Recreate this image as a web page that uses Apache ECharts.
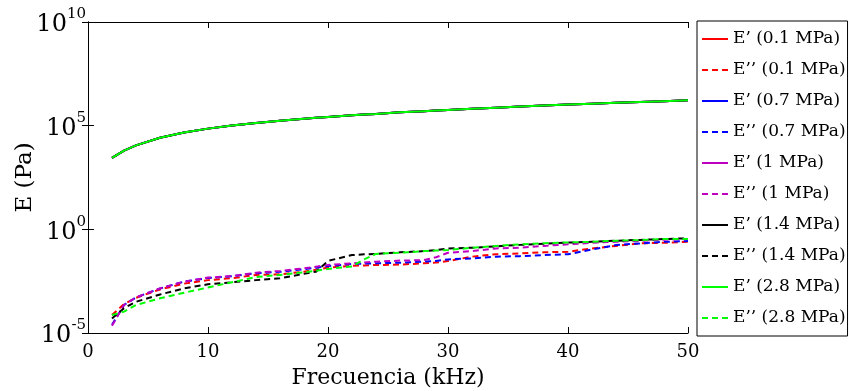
<!DOCTYPE html>
<html>
<head>
<meta charset="utf-8">
<script src="https://cdn.jsdelivr.net/npm/echarts@6/dist/echarts.min.js"></script>
<style>
html,body{margin:0;padding:0;background:#fff;}
#chart{width:851px;height:391px;}
</style>
</head>
<body>
<div id="chart"></div>
<script>
// Frequency samples (kHz)
const freq = [2,3,4,6,8,10,12,14,16,18,19,20,22,23,24,26,28,29,30,32,34,36,38,40,42,44,46,48,50];

// Storage modulus E' (Pa) — curves overlap for all pressures
const Ep_01 = [2.8e3,6.3e3,1.12e4,2.6e4,4.7e4,7.2e4,1.02e5,1.35e5,1.74e5,2.14e5,2.4e5,2.6e5,3.16e5,3.5e5,3.7e5,4.4e5,5.0e5,5.4e5,5.75e5,6.6e5,7.4e5,8.3e5,9.3e5,1.05e6,1.15e6,1.26e6,1.38e6,1.51e6,1.66e6];
const Ep_07 = [2.8e3,6.3e3,1.12e4,2.6e4,4.7e4,7.2e4,1.02e5,1.35e5,1.74e5,2.14e5,2.4e5,2.6e5,3.16e5,3.5e5,3.7e5,4.4e5,5.0e5,5.4e5,5.75e5,6.6e5,7.4e5,8.3e5,9.3e5,1.05e6,1.15e6,1.26e6,1.38e6,1.51e6,1.66e6];
const Ep_1  = [2.8e3,6.3e3,1.12e4,2.6e4,4.7e4,7.2e4,1.02e5,1.35e5,1.74e5,2.14e5,2.4e5,2.6e5,3.16e5,3.5e5,3.7e5,4.4e5,5.0e5,5.4e5,5.75e5,6.6e5,7.4e5,8.3e5,9.3e5,1.05e6,1.15e6,1.26e6,1.38e6,1.51e6,1.66e6];
const Ep_14 = [2.8e3,6.3e3,1.12e4,2.6e4,4.7e4,7.2e4,1.02e5,1.35e5,1.74e5,2.14e5,2.4e5,2.6e5,3.16e5,3.5e5,3.7e5,4.4e5,5.0e5,5.4e5,5.75e5,6.6e5,7.4e5,8.3e5,9.3e5,1.05e6,1.15e6,1.26e6,1.38e6,1.51e6,1.66e6];
const Ep_28 = [2.8e3,6.3e3,1.12e4,2.6e4,4.7e4,7.2e4,1.02e5,1.35e5,1.74e5,2.14e5,2.4e5,2.6e5,3.16e5,3.5e5,3.7e5,4.4e5,5.0e5,5.4e5,5.75e5,6.6e5,7.4e5,8.3e5,9.3e5,1.05e6,1.15e6,1.26e6,1.38e6,1.51e6,1.66e6];

// Loss modulus E'' (Pa)
const Epp_01 = [7.4e-5,2.5e-4,5.0e-4,1.26e-3,2.4e-3,3.55e-3,4.4e-3,6.3e-3,6.8e-3,9.1e-3,1.12e-2,1.41e-2,1.74e-2,1.82e-2,1.9e-2,2.0e-2,2.3e-2,2.5e-2,2.95e-2,4.8e-2,6.3e-2,6.9e-2,7.8e-2,8.3e-2,0.12,0.158,0.21,0.224,0.25];
const Epp_07 = [2.5e-5,2.24e-4,5.2e-4,1.41e-3,3.0e-3,4.5e-3,5.4e-3,7.6e-3,8.9e-3,1.2e-2,1.41e-2,1.7e-2,2.14e-2,2.24e-2,2.3e-2,2.45e-2,2.75e-2,3.0e-2,3.55e-2,3.98e-2,4.8e-2,5.1e-2,5.75e-2,6.3e-2,0.107,0.174,0.21,0.25,0.27];
const Epp_1  = [2.24e-5,2.24e-4,5.2e-4,1.41e-3,3.0e-3,4.7e-3,5.6e-3,8.1e-3,9.8e-3,1.32e-2,1.58e-2,1.9e-2,2.3e-2,2.5e-2,2.75e-2,3.1e-2,3.3e-2,4.5e-2,7.4e-2,8.9e-2,0.12,0.129,0.158,0.19,0.224,0.25,0.275,0.316,0.34];
const Epp_14 = [5.0e-5,1.58e-4,3.2e-4,7.2e-4,1.41e-3,2.24e-3,2.8e-3,3.55e-3,4.4e-3,7.1e-3,9.1e-3,3.0e-2,5.75e-2,6.2e-2,6.5e-2,7.8e-2,8.9e-2,0.1,0.12,0.129,0.151,0.178,0.204,0.229,0.25,0.282,0.309,0.34,0.37];
const Epp_28 = [7.4e-5,1.07e-4,2.24e-4,4.7e-4,8.7e-4,1.58e-3,2.8e-3,5.0e-3,6.3e-3,8.5e-3,1.0e-2,1.23e-2,1.62e-2,3.55e-2,6.5e-2,7.4e-2,8.9e-2,9.5e-2,0.1,0.129,0.158,0.19,0.214,0.234,0.25,0.282,0.302,0.34,0.34];

const seriesNames = ["E’ (0.1 MPa)","E’’ (0.1 MPa)","E’ (0.7 MPa)","E’’ (0.7 MPa)","E’ (1 MPa)","E’’ (1 MPa)","E’ (1.4 MPa)","E’’ (1.4 MPa)","E’ (2.8 MPa)","E’’ (2.8 MPa)"];
const seriesData = [Ep_01,Epp_01,Ep_07,Epp_07,Ep_1,Epp_1,Ep_14,Epp_14,Ep_28,Epp_28];
const seriesColors = ['#ff0000','#ff0000','#0000ff','#0000ff','#c000c0','#c000c0','#000000','#000000','#00ff00','#00ff00'];

const xTicks = [0,10,20,30,40,50];
const yExpTicks = [-5,0,5,10];
const xTitle = 'Frecuencia (kHz)';
const yTitle = 'E (Pa)';

const FONT = "'DejaVu Serif', 'Liberation Serif', serif";

const series = seriesNames.map((name, i) => {
  const dashed = (i % 2 === 1);
  return {
    name: name,
    type: 'line',
    xAxisIndex: 0,
    yAxisIndex: 0,
    symbol: 'none',
    showSymbol: false,
    data: freq.map((f, k) => [f, seriesData[i][k]]),
    lineStyle: { color: seriesColors[i], width: 2, type: dashed ? [6, 4] : 'solid', join: 'round' },
    itemStyle: { color: seriesColors[i] },
    emphasis: { disabled: true }
  };
});

const chart = echarts.init(document.getElementById('chart'), null, { renderer: 'canvas' });
chart.setOption({
  animation: false,
  backgroundColor: '#fff',
  textStyle: { fontFamily: FONT },
  grid: { left: 88, right: 163, top: 22, bottom: 58, containLabel: false, outerBoundsMode: 'none' },
  legend: {
    orient: 'vertical',
    left: 697,
    top: 21,
    padding: [8, 2, 8, 4],
    itemGap: 11,
    itemWidth: 26,
    itemHeight: 14,
    borderColor: '#000',
    borderWidth: 1,
    backgroundColor: '#fff',
    itemStyle: { color: 'transparent', borderColor: 'transparent', borderWidth: 0, opacity: 0 },
    textStyle: { fontFamily: FONT, fontSize: 17, color: '#000', lineHeight: 20 },
    data: seriesNames
  },
  xAxis: [{
    type: 'value',
    min: xTicks[0], max: xTicks[xTicks.length - 1], interval: 10,
    position: 'bottom',
    name: xTitle,
    nameLocation: 'middle',
    nameGap: 34,
    nameMoveOverlap: false,
    nameTextStyle: { fontFamily: FONT, fontSize: 22, color: '#000' },
    axisLine: { lineStyle: { color: '#000', width: 1 } },
    axisTick: { inside: true, length: 6, lineStyle: { color: '#000' } },
    axisLabel: { fontFamily: FONT, fontSize: 18, color: '#000', margin: 10 },
    splitLine: { show: false }
  }, {
    type: 'value',
    min: xTicks[0], max: xTicks[xTicks.length - 1], interval: 10,
    position: 'top',
    axisLine: { lineStyle: { color: '#000', width: 1 } },
    axisTick: { inside: true, length: 6, lineStyle: { color: '#000' } },
    axisLabel: { show: false },
    splitLine: { show: false }
  }],
  yAxis: [{
    type: 'log',
    logBase: 10,
    min: Math.pow(10, yExpTicks[0]),
    max: Math.pow(10, yExpTicks[yExpTicks.length - 1]),
    interval: 5,
    position: 'left',
    name: yTitle,
    nameLocation: 'middle',
    nameGap: 51,
    nameMoveOverlap: false,
    nameRotate: 90,
    nameTextStyle: { fontFamily: FONT, fontSize: 23, color: '#000' },
    axisLine: { lineStyle: { color: '#000', width: 1 } },
    axisTick: { inside: true, length: 6, lineStyle: { color: '#000' } },
    axisLabel: {
      margin: 2,
      showMinLabel: true,
      showMaxLabel: true,
      formatter: function (v) {
        const e = Math.round(Math.log10(v));
        return '{b|10}{s|' + (e < 0 ? '-' + (-e) : e) + '}';
      },
      rich: {
        b: { fontFamily: FONT, fontSize: 24, lineHeight: 30, color: '#000', verticalAlign: 'bottom' },
        s: { fontFamily: FONT, fontSize: 15, lineHeight: 15, color: '#000', verticalAlign: 'top' }
      }
    },
    splitLine: { show: false }
  }, {
    type: 'log',
    logBase: 10,
    min: Math.pow(10, yExpTicks[0]),
    max: Math.pow(10, yExpTicks[yExpTicks.length - 1]),
    interval: 5,
    position: 'right',
    axisLine: { lineStyle: { color: '#000', width: 1 } },
    axisTick: { inside: true, length: 6, lineStyle: { color: '#000' } },
    axisLabel: { show: false },
    splitLine: { show: false }
  }],
  series: series
});
</script>
</body>
</html>
